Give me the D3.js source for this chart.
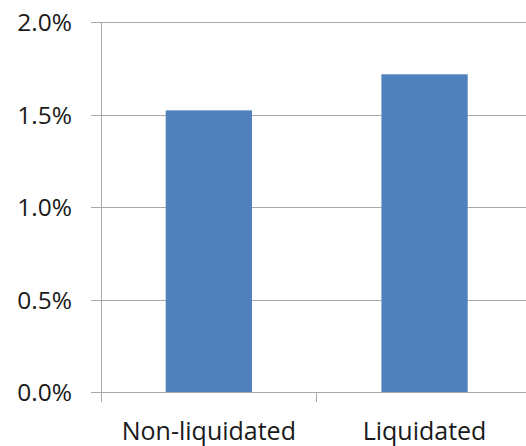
<!DOCTYPE html>
<html>
<head>
<meta charset="utf-8">
<script src="https://cdn.jsdelivr.net/npm/d3@7"></script>
<style>
  html, body { margin: 0; padding: 0; background: #fff; }
  svg { display: block; }
  text { font-family: "Open Sans", "Liberation Sans", sans-serif; fill: #1a1a1a; }
</style>
</head>
<body>
<svg id="chart" width="526" height="446"></svg>
<script>
// Share of firms, by liquidation status
const categories = ["Non-liquidated", "Liquidated"];
const values = [0.01525, 0.0172];
const yTicks = [0, 0.005, 0.01, 0.015, 0.02];

const svg = d3.select("#chart");

const plotLeft = 101, plotRight = 532.4;
const plotTop = 22.5, plotBottom = 392.5;

const x = d3.scaleBand()
  .domain(categories)
  .range([plotLeft, plotRight])
  .paddingInner(0.6)
  .paddingOuter(0.3);

// Category boundaries (for the axis tick marks between categories)
const xCell = d3.scaleBand()
  .domain(categories)
  .range([plotLeft, plotRight])
  .padding(0);

const y = d3.scaleLinear()
  .domain([0, 0.02])
  .range([plotBottom, plotTop]);

const fmt = d3.format(".1%");
const gridColor = "#a9a9a9";

// Horizontal gridlines with short tick stubs on the left
const grid = svg.append("g").attr("shape-rendering", "crispEdges");
grid.selectAll("line.grid")
  .data(yTicks)
  .join("line")
  .attr("class", "grid")
  .attr("x1", plotLeft - 10)
  .attr("x2", 526)
  .attr("y1", d => y(d))
  .attr("y2", d => y(d))
  .attr("stroke", gridColor)
  .attr("stroke-width", 1);

// Bars
svg.append("g")
  .selectAll("rect")
  .data(categories)
  .join("rect")
  .attr("x", d => x(d))
  .attr("width", x.bandwidth())
  .attr("y", (d, i) => y(values[i]))
  .attr("height", (d, i) => y(0) - y(values[i]))
  .attr("fill", "#4f81bd");

// Axes lines
const axes = svg.append("g").attr("shape-rendering", "crispEdges");
axes.append("line")
  .attr("x1", plotLeft).attr("x2", plotLeft)
  .attr("y1", plotTop).attr("y2", plotBottom + 9)
  .attr("stroke", gridColor);
axes.append("line")
  .attr("x1", plotLeft).attr("x2", 526)
  .attr("y1", y(0)).attr("y2", y(0))
  .attr("stroke", gridColor);
axes.selectAll("line.xtick")
  .data(categories.slice(1))
  .join("line")
  .attr("class", "xtick")
  .attr("x1", d => xCell(d)).attr("x2", d => xCell(d))
  .attr("y1", y(0)).attr("y2", y(0) + 9)
  .attr("stroke", gridColor);

// Y tick labels
svg.append("g")
  .selectAll("text")
  .data(yTicks)
  .join("text")
  .attr("x", 72)
  .attr("y", d => y(d))
  .attr("dy", "0.35em")
  .attr("text-anchor", "end")
  .attr("font-size", 24.5)
  .text(d => fmt(d));

// Category labels
svg.append("g")
  .selectAll("text")
  .data(categories)
  .join("text")
  .attr("x", d => x(d) + x.bandwidth() / 2)
  .attr("y", 440)
  .attr("text-anchor", "middle")
  .attr("font-size", 25)
  .text(d => d);
</script>
</body>
</html>
